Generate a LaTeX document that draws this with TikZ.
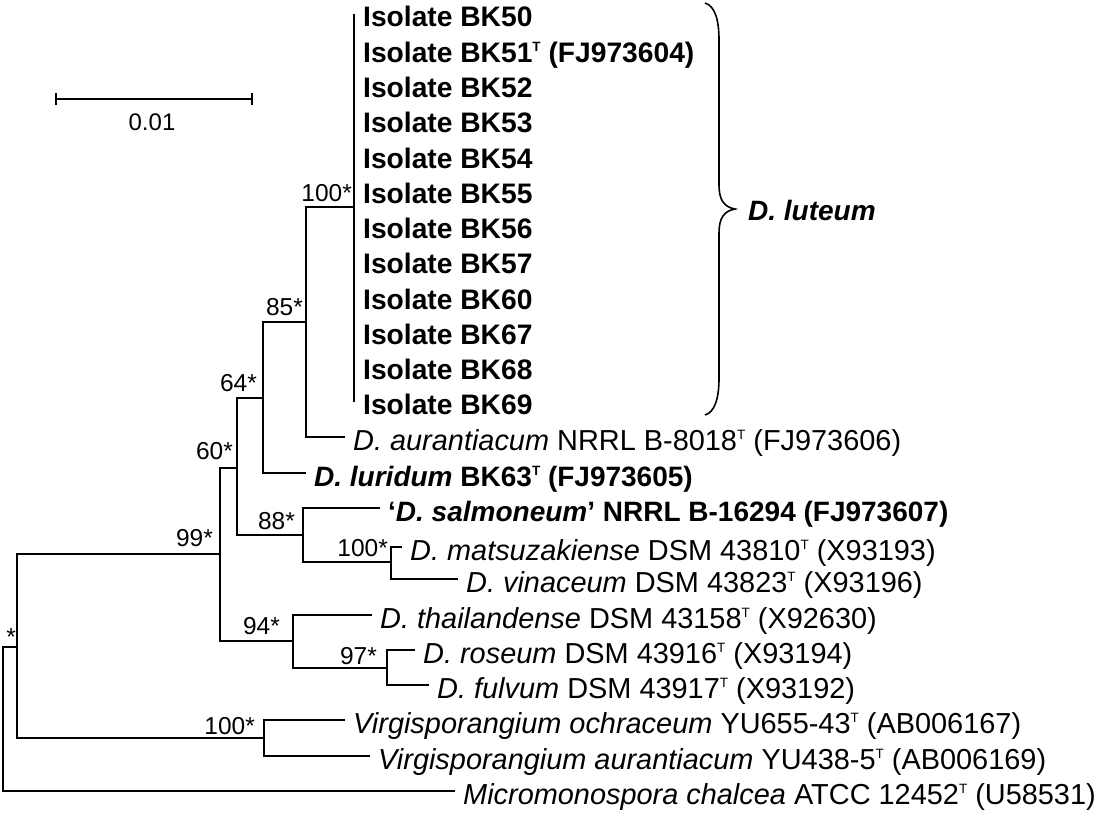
\documentclass[tikz,border=0pt]{standalone}
\usepackage{fontspec}
\setmainfont{Liberation Sans}
\newcommand\supT{\raisebox{10.5pt}{\fontsize{13.5}{13.5}\selectfont T}}
\begin{document}
\begin{tikzpicture}[x=1pt,y=-1pt]
\tikzset{
  br/.style={line width=2pt},
  leaf/.style={anchor=base west, inner sep=0pt, font=\fontsize{28.9}{30}\selectfont},
  bleaf/.style={anchor=base west, inner sep=0pt, font=\fontsize{28}{30}\selectfont\bfseries},
  isolab/.style={anchor=base west, inner sep=0pt, font=\fontsize{28.2}{30}\selectfont\bfseries},
  boot/.style={anchor=base east, inner sep=0pt, font=\fontsize{24.5}{26}\selectfont},
}
\useasboundingbox (0,0) rectangle (1100,813);
% internal nodes
\coordinate (root) at (3,718);
\coordinate (nS) at (17,647);
\coordinate (n99) at (220,554);
\coordinate (n60) at (237,468);
\coordinate (n64) at (263,398);
\coordinate (n85) at (306,322);
\coordinate (n100a) at (354,207);
\coordinate (isoTop) at (354,14);
\coordinate (isoBot) at (354,402);
\coordinate (n88) at (303,535);
\coordinate (n100b) at (391,562);
\coordinate (n94) at (293,641);
\coordinate (n97) at (387,668);
\coordinate (nV) at (264,738);
% leaf line ends
\coordinate (aur) at (345,437);
\coordinate (lur) at (306,473);
\coordinate (sal) at (380,508);
\coordinate (mat) at (402,547);
\coordinate (vin) at (458,579);
\coordinate (tha) at (372,615);
\coordinate (ros) at (415,650);
\coordinate (ful) at (429,685);
\coordinate (voc) at (345,720);
\coordinate (vau) at (370,756);
\coordinate (mic) at (455,791);
% branches
\draw[br] (root) |- (nS);  \draw[br] (root) |- (mic);
\draw[br] (nS) |- (n99);   \draw[br] (nS) |- (nV);
\draw[br] (n99) |- (n60);  \draw[br] (n99) |- (n94);
\draw[br] (n60) |- (n64);  \draw[br] (n60) |- (n88);
\draw[br] (n64) |- (n85);  \draw[br] (n64) |- (lur);
\draw[br] (n85) |- (n100a); \draw[br] (n85) |- (aur);
\draw[br] (isoTop) -- (isoBot);
\draw[br] (n88) |- (sal);  \draw[br] (n88) |- (n100b);
\draw[br] (n100b) |- (mat); \draw[br] (n100b) |- (vin);
\draw[br] (n94) |- (tha);  \draw[br] (n94) |- (n97);
\draw[br] (n97) |- (ros);  \draw[br] (n97) |- (ful);
\draw[br] (nV) |- (voc);   \draw[br] (nV) |- (vau);
% isolates
\foreach \k/\t in {0/BK50, 1/{BK51\supT{} (FJ973604)}, 2/BK52, 3/BK53, 4/BK54, 5/BK55, 6/BK56, 7/BK57, 8/BK60, 9/BK67, 10/BK68, 11/BK69}{
  \node[isolab] (iso\k) at (363,{14+35.27*\k+13}) {Isolate \t};
}
% leaf labels
\node[leaf] (taur) at ([shift={(8,13)}]aur) {\textit{D. aurantiacum} NRRL B-8018\supT{} (FJ973606)};
\node[bleaf] (tlur) at ([shift={(8,13)}]lur) {\textit{D. luridum} BK63\supT{} (FJ973605)};
\node[bleaf] (tsal) at ([shift={(8,13)}]sal) {‘\textit{D. salmoneum}’ NRRL B-16294 (FJ973607)};
\node[leaf] (tmat) at ([shift={(8,13)}]mat) {\textit{D. matsuzakiense} DSM 43810\supT{} (X93193)};
\node[leaf] (tvin) at ([shift={(8,13)}]vin) {\textit{D. vinaceum} DSM 43823\supT{} (X93196)};
\node[leaf] (ttha) at ([shift={(8,13)}]tha) {\textit{D. thailandense} DSM 43158\supT{} (X92630)};
\node[leaf] (tros) at ([shift={(8,13)}]ros) {\textit{D. roseum} DSM 43916\supT{} (X93194)};
\node[leaf] (tful) at ([shift={(8,13)}]ful) {\textit{D. fulvum} DSM 43917\supT{} (X93192)};
\node[leaf] (tvoc) at ([shift={(8,13)}]voc) {\textit{Virgisporangium ochraceum} YU655-43\supT{} (AB006167)};
\node[leaf] (tvau) at ([shift={(8,13)}]vau) {\textit{Virgisporangium aurantiacum} YU438-5\supT{} (AB006169)};
\node[leaf] (tmic) at ([shift={(8,13)}]mic) {\textit{Micromonospora chalcea} ATCC 12452\supT{} (U58531)};
% bootstrap labels
\node[boot] (bS) at (16,645) {*};
\node[boot] (b99) at (213,546) {99*};
\node[boot] (b60) at (233,459) {60*};
\node[boot] (b64) at (257,391) {64*};
\node[boot] (b85) at (303,315) {85*};
\node[boot] (b100a) at (352,201) {100*};
\node[boot] (b88) at (295,529) {88*};
\node[boot] (b100b) at (388,556) {100*};
\node[boot] (b94) at (280,634) {94*};
\node[boot] (b97) at (377,664) {97*};
\node[boot] (b100V) at (255,734) {100*};
% brace
\coordinate (bTop) at (705,3);
\coordinate (bTip) at (735,209);
\coordinate (bBot) at (705,415);
\draw[line width=1.6pt] (bTop) .. controls (715,6) and (719,20) .. (719,40) -- (719,185)
  .. controls (719,200) and (724,207) .. (bTip)
  .. controls (724,211) and (719,218) .. (719,233) -- (719,378)
  .. controls (719,398) and (715,412) .. (bBot);
\node[anchor=west, inner sep=0pt, font=\fontsize{28}{30}\selectfont\bfseries\itshape] (lut) at (748,210) {D. luteum};
% scale bar
\coordinate (sbL) at (56,99);
\coordinate (sbR) at (252,99);
\draw[line width=2pt] (sbL) -- (sbR);
\draw[line width=2pt] ([yshift=-6pt]sbL) -- ([yshift=6pt]sbL);
\draw[line width=2pt] ([yshift=-6pt]sbR) -- ([yshift=6pt]sbR);
\node[anchor=base, inner sep=0pt, font=\fontsize{24}{26}\selectfont] (sbt) at (152,131) {0.01};
\end{tikzpicture}
\end{document}
